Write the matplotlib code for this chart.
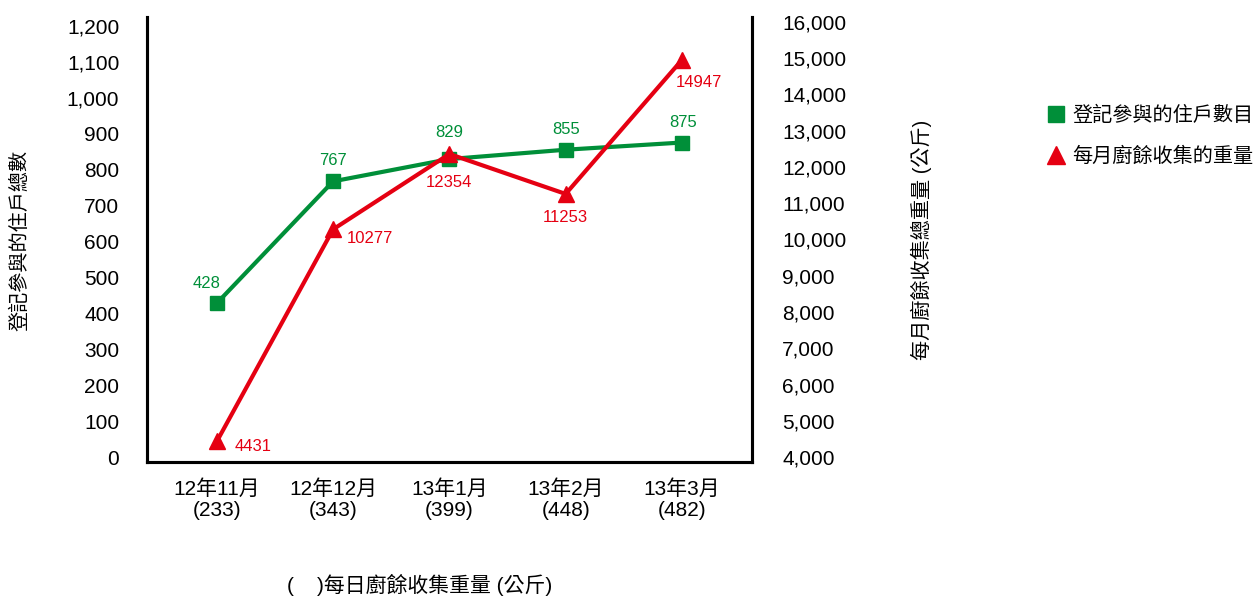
import matplotlib
matplotlib.use("Agg")
import matplotlib.pyplot as plt
from matplotlib.ticker import FuncFormatter
from matplotlib.lines import Line2D

plt.rcParams['font.family'] = ['Liberation Sans', 'Noto Sans CJK TC', 'DejaVu Sans']

months = ['12年11月', '12年12月', '13年1月', '13年2月', '13年3月']
daily_kg = ['233', '343', '399', '448', '482']
households = [428, 767, 829, 855, 875]
monthly_kg = [4431, 10277, 12354, 11253, 14947]

green = '#008f39'
red = '#e50012'

fig = plt.figure(figsize=(12.57, 5.97), dpi=100)
ax = fig.add_axes([0.117, 0.226, 0.481, 0.746])
ax2 = ax.twinx()

x = list(range(len(months)))
ax.plot(x, households, color=green, lw=3, marker='s', ms=10.5, zorder=3)
ax2.plot(x, monthly_kg, color=red, lw=3, marker='^', ms=11, zorder=3)

ax.set_xlim(-0.6, 4.6)
ax.set_ylim(-14, 1225)
ax2.set_ylim(3862, 16138)
ax.set_yticks(range(0, 1201, 100))
ax2.set_yticks(range(4000, 16001, 1000))
comma = FuncFormatter(lambda v, p: f'{int(v):,}')
ax.yaxis.set_major_formatter(comma)
ax2.yaxis.set_major_formatter(comma)

ax.set_xticks(x)
ax.set_xticklabels([f'{m}\n({d})' for m, d in zip(months, daily_kg)])

for a in (ax, ax2):
    a.spines['top'].set_visible(False)
    for s in ('left', 'right', 'bottom'):
        a.spines[s].set_linewidth(2.2)
ax.tick_params(axis='y', length=0, pad=20, labelsize=15)
ax.tick_params(axis='x', length=0, pad=12, labelsize=15)
ax2.tick_params(axis='y', length=0, pad=22, labelsize=15)

# data labels (offsets in pixels from the point)
green_off = [(-10, 20), (0, 21), (0, 27), (0, 20), (1, 20)]
for xi, v, off in zip(x, households, green_off):
    ax.annotate(str(v), (xi, v), xytext=off, textcoords='offset pixels',
                ha='center', va='center', color=green, fontsize=12)

red_off = [(36, -5), (37, -9), (0, -29), (0, -24), (17, -23)]
for xi, v, off in zip(x, monthly_kg, red_off):
    ax2.annotate(str(v), (xi, v), xytext=off, textcoords='offset pixels',
                 ha='center', va='center', color=red, fontsize=12)

fig.text(0.016, 0.598, '登記參與的住戶總數', rotation=90, ha='center', va='center', fontsize=14.5)
fig.text(0.733, 0.598, '每月廚餘收集總重量 (公斤)', rotation=90, ha='center', va='center', fontsize=14.5)
fig.text(0.334, 0.02, '(    )每日廚餘收集重量 (公斤)', ha='center', va='center', fontsize=15)

handles = [Line2D([], [], color=green, marker='s', ls='none', ms=12),
           Line2D([], [], color=red, marker='^', ls='none', ms=13)]
fig.legend(handles, ['登記參與的住戶數目', '每月廚餘收集的重量'], loc='upper left',
           bbox_to_anchor=(0.818, 0.853), frameon=False, fontsize=14.5,
           handletextpad=0.3, labelspacing=1.05, handlelength=1.0)

fig.savefig('out.png', dpi=100)
